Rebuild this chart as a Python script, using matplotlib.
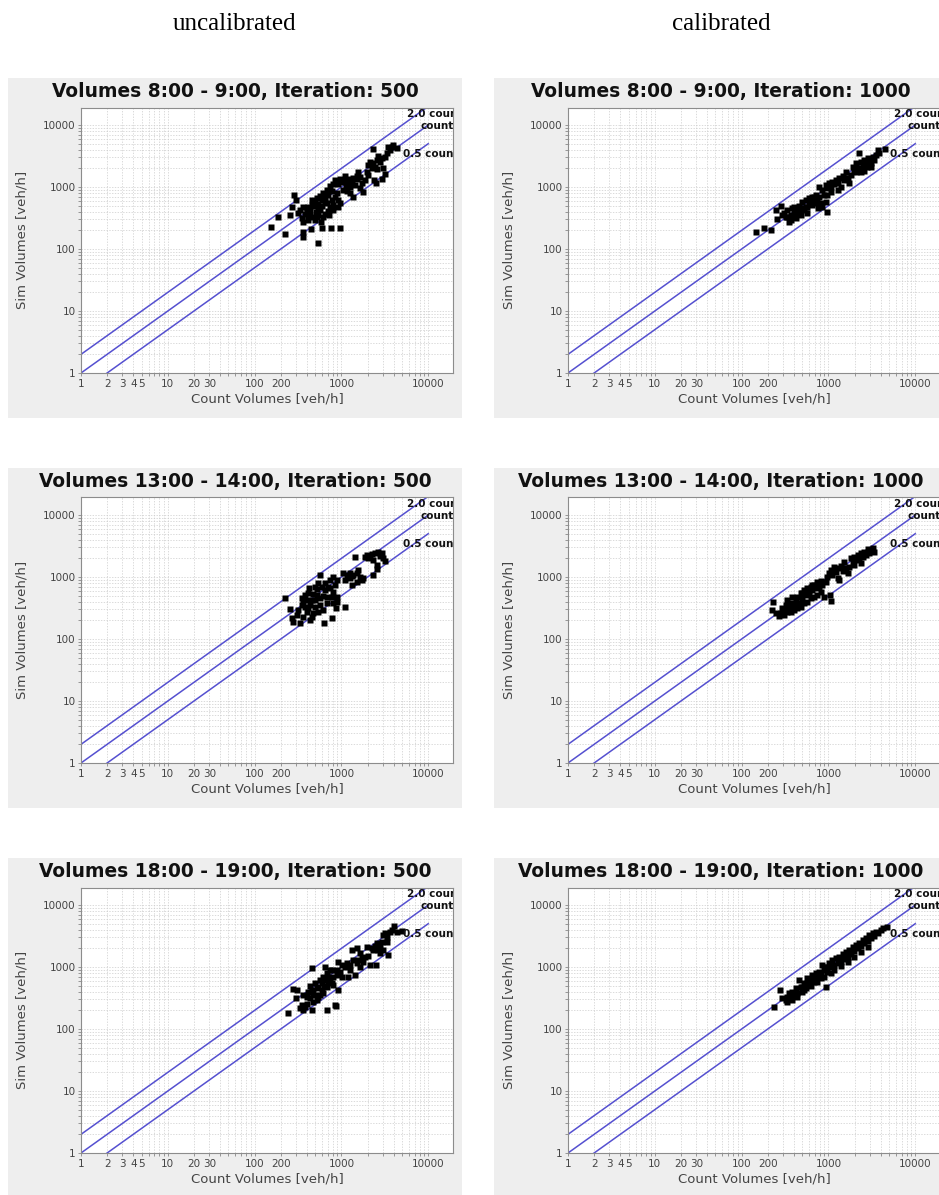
import numpy as np
import matplotlib
matplotlib.use("Agg")
import matplotlib.pyplot as plt
from matplotlib.patches import Rectangle
from matplotlib.ticker import FixedLocator, FixedFormatter, NullFormatter

# count volume vs. sim volume [veh/h]
pts_0800_500 = [
    (153, 229), (188, 325), (224, 172), (286, 750), (300, 617), (272, 470), (255, 350),
    (357, 190), (364, 158), (532, 126), (442, 210), (592, 220), (757, 220), (963, 220),
    (580, 276), (333, 426), (364, 482), (397, 453), (380, 370), (415, 340), (434, 426),
    (474, 490), (496, 580), (519, 655), (542, 530), (453, 617), (566, 710), (592, 617),
    (619, 805), (647, 685), (676, 910), (707, 750), (738, 1035), (772, 875), (807, 1120),
    (843, 1320), (881, 1195), (921, 1120), (963, 1370), (1007, 1195), (1052, 1320),
    (1100, 1500), (1149, 1195), (1200, 1296), (1256, 990), (1313, 1195), (1372, 1385),
    (1434, 1080), (1498, 1350), (1567, 1760), (1637, 1467), (1712, 1145), (1788, 840),
    (1870, 1296), (1954, 1760), (2040, 2260), (2134, 2560), (2230, 2000), (2331, 2407),
    (2438, 2128), (2547, 2724), (2663, 3140), (2782, 2560), (2910, 2900), (3180, 3083),
    (3320, 3490), (3470, 4468), (3627, 3950), (3793, 4468), (4330, 4200), (2380, 1296),
    (2500, 1145), (2331, 4140), (2040, 1560), (1372, 698), (1256, 790), (1149, 875),
    (963, 545), (921, 617), (843, 698), (807, 512), (738, 470), (707, 415), (647, 370),
    (608, 325), (542, 355), (496, 294), (474, 332), (415, 294), (364, 276), (348, 312),
    (319, 376), (510, 400), (566, 426), (676, 545), (772, 617), (881, 790), (1030, 910),
    (1125, 1012), (1256, 1370), (1498, 1500), (2547, 1950), (1637, 950), (921, 470),
    (807, 426), (725, 355), (3180, 1620), (2910, 1370), (3041, 2020), (3890, 4760),
    (415, 482), (453, 512), (542, 453), (592, 490), (647, 580), (434, 355), (397, 400),
    (519, 332),
]

pts_0800_1000 = [
    (145, 190), (180, 218), (216, 202), (281, 490), (257, 305), (246, 426), (307, 376),
    (336, 426), (321, 332), (351, 276), (367, 355), (384, 453), (401, 376), (420, 312),
    (439, 426), (459, 490), (479, 355), (501, 580), (524, 426), (548, 617), (572, 482),
    (598, 655), (625, 545), (654, 698), (684, 617), (715, 745), (747, 617), (781, 698),
    (816, 545), (853, 482), (958, 400), (933, 580), (754, 453), (781, 1000), (853, 894),
    (933, 1085), (975, 950), (1019, 1145), (1066, 1012), (1114, 1220), (1164, 1120),
    (1217, 1296), (1273, 1145), (1331, 1380), (1391, 1000), (1454, 1500), (1520, 1296),
    (1590, 1760), (1661, 1380), (1737, 1170), (1815, 1560), (1897, 2128), (1984, 1879),
    (2073, 2407), (2168, 2000), (2266, 3490), (2369, 2560), (2477, 2128), (2589, 2724),
    (2707, 2260), (2829, 2900), (2958, 2560), (3092, 2407), (3232, 3083), (3379, 2724),
    (3532, 3280), (3692, 3950), (3860, 3490), (4500, 4060), (3092, 2128), (2589, 1830),
    (2369, 1760), (1273, 894), (1066, 840), (975, 745), (892, 745), (715, 560), (654, 512),
    (572, 376), (501, 453), (459, 376), (401, 482), (367, 294), (336, 325), (294, 355),
    (548, 482), (625, 617), (684, 698), (598, 545), (1590, 1420), (2073, 1760), (2770, 2128),
]

pts_1300_500 = [
    (225, 453), (255, 305), (267, 220), (279, 190), (305, 244), (333, 179), (319, 294),
    (348, 453), (364, 376), (380, 512), (397, 426), (415, 312), (427, 655), (434, 355),
    (453, 229), (474, 530), (496, 426), (519, 630), (542, 276), (566, 1080), (592, 698),
    (608, 490), (627, 179), (647, 790), (676, 482), (707, 698), (738, 894), (772, 215),
    (807, 580), (843, 745), (868, 312), (881, 482), (790, 1012), (895, 894), (1052, 1145),
    (1100, 325), (1149, 990), (1200, 1080), (1256, 1145), (1313, 745), (1372, 1080),
    (1434, 2128), (1498, 1145), (1567, 1296), (1637, 990), (1788, 950), (1870, 2128),
    (1954, 2260), (2040, 2000), (2134, 2128), (2230, 2340), (2331, 1879), (2438, 2407),
    (2547, 1330), (2600, 1560), (2663, 2560), (2782, 2170), (2910, 2407), (3041, 2000),
    (3180, 1830), (2331, 1080), (1498, 840), (1313, 1040), (1712, 894), (676, 376),
    (619, 294), (566, 355), (496, 332), (453, 426), (415, 545), (380, 332), (348, 355),
    (519, 512), (566, 453), (647, 617), (738, 655), (772, 482), (474, 259), (434, 202),
    (364, 229), (397, 276), (542, 790), (496, 698), (1256, 950), (1100, 894), (881, 400),
    (807, 376),
]

pts_1300_1000 = [
    (233, 400), (226, 290), (246, 259), (269, 235), (281, 265), (294, 312), (307, 244),
    (321, 355), (336, 426), (351, 312), (367, 376), (384, 470), (401, 355), (420, 426),
    (439, 482), (459, 376), (479, 545), (501, 453), (524, 617), (548, 512), (572, 655),
    (598, 545), (625, 698), (654, 617), (684, 745), (715, 655), (747, 840), (781, 698),
    (816, 875), (853, 745), (892, 482), (1066, 410), (1045, 512), (975, 1012), (1019, 1145),
    (1066, 1296), (1114, 1080), (1164, 1467), (1217, 1220), (1273, 1380), (1273, 950),
    (1331, 894), (1391, 1500), (1454, 1260), (1520, 1760), (1590, 1380), (1661, 1170),
    (1737, 1467), (1815, 2000), (1897, 1700), (1984, 2128), (2073, 1879), (2168, 2260),
    (2266, 2000), (2369, 2407), (2477, 2128), (2589, 2560), (2707, 2260), (2829, 2800),
    (2958, 2407), (3092, 2724), (3232, 2900), (3379, 2560), (2369, 1700), (1984, 1560),
    (747, 512), (816, 580), (684, 482), (625, 453), (572, 400), (524, 376), (479, 332),
    (439, 312), (401, 294), (367, 276), (336, 276), (307, 294), (501, 545), (654, 745),
    (598, 617), (933, 840),
]

pts_1800_500 = [
    (244, 183), (279, 435), (305, 426), (300, 312), (333, 215), (348, 244), (364, 202),
    (380, 229), (397, 253), (415, 400), (434, 490), (453, 950), (453, 202), (474, 376),
    (496, 545), (519, 453), (542, 332), (566, 617), (592, 426), (608, 685), (627, 490),
    (647, 1012), (676, 790), (690, 206), (707, 580), (738, 655), (772, 894), (807, 512),
    (843, 244), (868, 235), (921, 426), (881, 745), (921, 1220), (963, 840), (1007, 1080),
    (1100, 990), (1149, 1145), (1200, 685), (1256, 1080), (1313, 1879), (1372, 1296),
    (1434, 745), (1498, 2000), (1498, 1170), (1567, 1296), (1637, 990), (1712, 1380),
    (1788, 1220), (1870, 1467), (1954, 2128), (2040, 1500), (2134, 1080), (2230, 2000),
    (2331, 1879), (2438, 2170), (2500, 1080), (2547, 2407), (2663, 1879), (2782, 2128),
    (2910, 2560), (3041, 3280), (3180, 3490), (3320, 3083), (3470, 1560), (3627, 3700),
    (3793, 3950), (4040, 4580), (4330, 3700), (4940, 3840), (3320, 2560), (3041, 1879),
    (2782, 1700), (1637, 1660), (1256, 894), (1007, 698), (772, 545), (676, 482),
    (619, 376), (566, 355), (519, 294), (474, 276), (434, 312), (397, 332), (364, 355),
    (542, 482), (592, 545), (647, 617), (707, 698), (496, 355), (453, 426), (807, 698),
    (881, 894), (738, 894),
]

pts_1800_1000 = [
    (236, 229), (276, 426), (294, 312), (321, 294), (336, 332), (351, 376), (367, 312),
    (384, 400), (401, 355), (420, 453), (439, 376), (459, 617), (479, 482), (501, 400),
    (524, 545), (548, 453), (572, 655), (598, 512), (625, 617), (654, 745), (684, 580),
    (715, 790), (747, 698), (781, 840), (816, 655), (853, 1080), (892, 894), (933, 470),
    (933, 1012), (975, 840), (1019, 1170), (1066, 990), (1114, 1296), (1164, 1080),
    (1217, 1380), (1273, 1145), (1331, 1467), (1391, 1220), (1454, 1620), (1520, 1330),
    (1590, 1760), (1661, 1467), (1737, 1879), (1815, 1620), (1897, 2128), (1984, 1830),
    (2073, 2260), (2168, 2000), (2266, 2470), (2369, 2170), (2477, 2724), (2589, 2407),
    (2707, 2990), (2829, 2660), (2958, 3280), (3092, 2900), (3232, 3490), (3379, 3180),
    (3532, 3700), (3692, 3490), (3990, 3950), (4240, 4200), (4720, 4468), (2829, 2128),
    (2369, 1760), (1984, 1467), (1661, 1220), (1391, 1040), (1164, 894), (1066, 790),
    (892, 698), (747, 580), (625, 490), (524, 426), (439, 332), (384, 294), (336, 276),
    (572, 545), (684, 698), (816, 790), (975, 990), (501, 482), (715, 617),
]

titles = [
    "Volumes 8:00 - 9:00, Iteration: 500", "Volumes 8:00 - 9:00, Iteration: 1000",
    "Volumes 13:00 - 14:00, Iteration: 500", "Volumes 13:00 - 14:00, Iteration: 1000",
    "Volumes 18:00 - 19:00, Iteration: 500", "Volumes 18:00 - 19:00, Iteration: 1000",
]
panel_data = [pts_0800_500, pts_0800_1000, pts_1300_500, pts_1300_1000,
              pts_1800_500, pts_1800_1000]
column_heads = ["uncalibrated", "calibrated"]

x_ticks = [1, 2, 3, 4, 5, 10, 20, 30, 100, 200, 1000, 10000]
y_ticks = [1, 10, 100, 1000, 10000]
minor_ticks = [m * 10 ** d for d in range(5) for m in range(2, 10)]

# reference lines: factor, label, label position
ref_factors = [2.0, 1.0, 0.5]
ref_labels = ["2.0 count", "count", "0.5 count"]
ref_label_pos = [(5650, 15000), (8050, 9600), (5080, 3370)]

W, H = 939, 1195
fig = plt.figure(figsize=(W / 100, H / 100), dpi=100)

line_col = "#5550d0"
grid_col = "#cccccc"
text_col = "#444444"

row_off = [0, 390, 780]
panel_x = [8, 494]
axes_x = [81, 568]

for k, (pts, title) in enumerate(zip(panel_data, titles)):
    row, col = divmod(k, 2)
    off = row_off[row]

    # gray chart background, kept behind the axes
    px0 = panel_x[col]
    fig.patches.append(Rectangle((px0 / W, 1 - (418 + off) / H), 454 / W, 340 / H,
                                 transform=fig.transFigure, facecolor="#eeeeee",
                                 edgecolor="none", zorder=-5))

    ax = fig.add_axes([axes_x[col] / W, 1 - (373 + off) / H, 372 / W, 265.5 / H])
    ax.set_facecolor("white")
    ax.set_xscale("log")
    ax.set_yscale("log")
    ax.set_xlim(1, 19300)
    ax.set_ylim(1, 19200)

    ax.xaxis.set_major_locator(FixedLocator(x_ticks))
    ax.xaxis.set_major_formatter(FixedFormatter([str(t) for t in x_ticks]))
    ax.yaxis.set_major_locator(FixedLocator(y_ticks))
    ax.yaxis.set_major_formatter(FixedFormatter([str(t) for t in y_ticks]))
    ax.xaxis.set_minor_locator(FixedLocator(minor_ticks))
    ax.yaxis.set_minor_locator(FixedLocator(minor_ticks))
    ax.xaxis.set_minor_formatter(NullFormatter())
    ax.yaxis.set_minor_formatter(NullFormatter())
    ax.tick_params(which="both", direction="out", length=2, width=0.6,
                   color="#888888", labelsize=7.5, labelcolor=text_col, pad=2)

    ax.grid(which="both", color=grid_col, linestyle=(0, (2, 2)), linewidth=0.5)
    ax.set_axisbelow(True)
    for sp in ax.spines.values():
        sp.set_color("#8c8c8c")
        sp.set_linewidth(0.8)

    xs = np.array([1.0, 10000.0])
    for f in ref_factors:
        ax.plot(xs, f * xs, color=line_col, linewidth=1.1, zorder=2)
    for lab, (lx, ly) in zip(ref_labels, ref_label_pos):
        ax.text(lx, ly, lab, fontsize=7.5, fontweight="bold", ha="left",
                va="center", color="#111111", clip_on=True, zorder=4)

    arr = np.array(pts, dtype=float)
    ax.plot(arr[:, 0], arr[:, 1], linestyle="none", marker="s", markersize=3.7,
            markerfacecolor="black", markeredgecolor="none", zorder=3)

    ax.set_xlabel("Count Volumes [veh/h]", fontsize=9.5, color=text_col)
    ax.set_ylabel("Sim Volumes [veh/h]", fontsize=9.5, color=text_col)
    ax.xaxis.set_label_coords(0.5, -0.075)
    ax.yaxis.set_label_coords(-0.14, 0.5)

    fig.text((px0 + 227) / W, 1 - (91.5 + off) / H, title, fontsize=13.4,
             fontweight="bold", ha="center", va="center", color="#111111")

for col, head in enumerate(column_heads):
    fig.text((panel_x[col] + 227) / W, 1 - 24 / H, head, fontsize=18,
             family="Liberation Serif", ha="center", va="center", color="black")

fig.savefig("out.png", dpi=100)
